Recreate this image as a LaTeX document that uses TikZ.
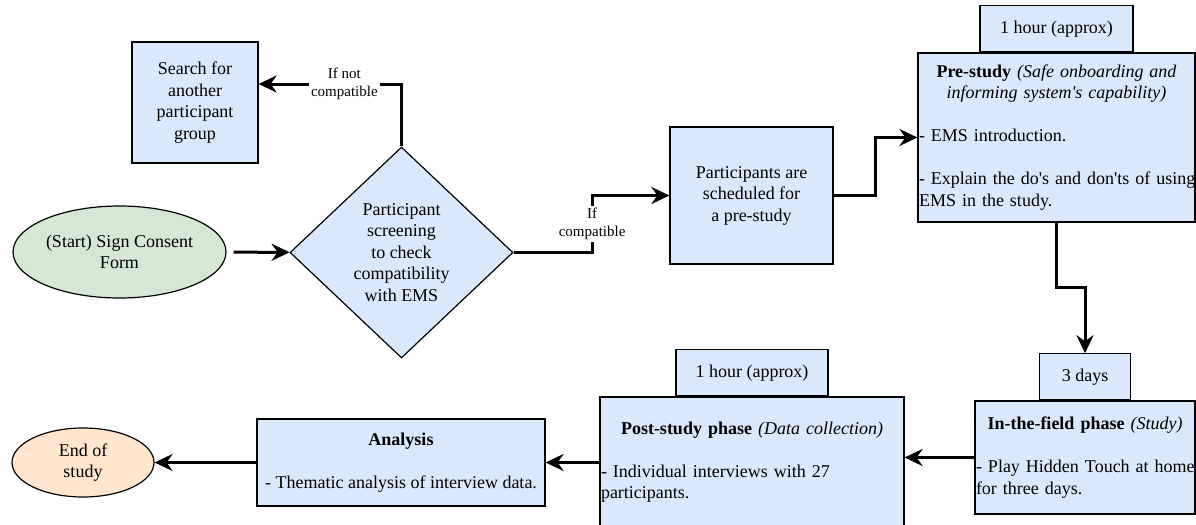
\documentclass[tikz,border=0pt]{standalone}
\usepackage{fontspec}
\setmainfont{Liberation Serif}
\usetikzlibrary{arrows.meta,positioning,calc,shapes.geometric}
\definecolor{boxblue}{HTML}{DAE8FC}
\definecolor{startgreen}{HTML}{D5E8D4}
\definecolor{endorange}{HTML}{FFE6CC}

\begin{document}
\begin{tikzpicture}[x=0.5pt, y=-0.5pt, font=\fontsize{9}{10.75}\selectfont,
  box/.style={draw, fill=boxblue, line width=0.6pt, align=center, inner sep=0.5pt},
  phase/.style={box, align=left},
  tab/.style={box, minimum height=23pt},
  oval/.style={ellipse, draw, line width=0.6pt, align=center, inner sep=0pt},
  flow/.style={line width=1.5pt, -{Stealth[length=9pt, width=8.5pt, inset=3pt]}},
  lbl/.style={font=\fontsize{7.5}{9}\selectfont, fill=white, align=center, inner sep=1pt}]
  \useasboundingbox (0,0) rectangle (1196,525);
  \node[oval, fill=startgreen, minimum width=106.5pt, minimum height=46pt] (start) at (119.5,252) {(Start) Sign Consent\\Form};
  \node[diamond, draw, fill=boxblue, line width=0.6pt, align=center, inner sep=0pt, minimum width=111.5pt, minimum height=105.5pt] (screen) at (401.5,252.5) {Participant\\screening\\to check\\compatibility\\with EMS};
  \node[box, minimum width=63pt, minimum height=60.5pt] (search) at (195,102.5) {Search for\\another\\participant\\group};
  \node[box, minimum width=81.5pt, minimum height=68.5pt] (sched) at (751.5,195.5) {Participants are\\scheduled for\\a pre-study};
  \node[phase, minimum width=138.5pt, minimum height=84.5pt, text width=137.5pt] (pre) at (1056.5,137.5) {{\centering\textbf{Pre-study} \textit{(Safe onboarding and\\informing system\textquotesingle s capability)}\par}\vspace{\baselineskip}\mbox{- EMS introduction.}\\[\baselineskip]\mbox{- Explain the do\textquotesingle s and don\textquotesingle ts of using}\\\mbox{EMS in the study.}};
  \node[tab, minimum width=76.5pt, above=0pt of pre] (pretab) {1 hour (approx)};
  \node[phase, minimum width=110pt, minimum height=56.5pt, text width=109pt] (field) at (1085,457.5) {{\centering\textbf{In-the-field phase} \textit{(Study)}\par}\vspace{\baselineskip}\mbox{- Play Hidden Touch at home}\\\mbox{for three days.}};
  \node[tab, minimum width=45.5pt, above=0pt of field] (fieldtab) {3 days};
  \node[phase, minimum width=152pt, minimum height=65pt, text width=151pt] (post) at (752,462) {{\centering\textbf{Post-study phase} \textit{(Data collection)}\par}\vspace{\baselineskip}\mbox{- Individual interviews with 27}\\\mbox{participants.}};
  \node[tab, minimum width=76pt, above=0pt of post] (posttab) {1 hour (approx)};
  \node[box, minimum width=144pt, minimum height=43.5pt] (analysis) at (401,462.5) {\textbf{Analysis}\\[\baselineskip]- Thematic analysis of interview data.};
  \node[oval, fill=endorange, minimum width=71pt, minimum height=34.5pt] (finish) at (83,462.5) {End of\\study};
  \coordinate (yesbend) at ($(screen.east)+(78.5,0)$);
  \draw[flow, shorten <=3.5pt] (start) -- (screen);
  \draw[flow] (screen.north) |- node[lbl, pos=0.7] {If not\\compatible} ($(search.east)+(0,-18.5)$);
  \draw[flow] (screen.east) -- (yesbend) |- node[lbl, pos=0.25] {If\\compatible} (sched.west);
  \draw[flow] (sched.east) -- ++(42,0) |- (pre.west);
  \draw[flow] (pre.south) |- ($(pre.south)!0.5!(fieldtab.north)$) -| (fieldtab.north);
  \draw[flow] (field.west) -- (field.west -| post.east);
  \draw[flow] (post.west |- analysis.east) -- (analysis.east);
  \draw[flow] (analysis.west) -- (finish.east);
\end{tikzpicture}
\end{document}
